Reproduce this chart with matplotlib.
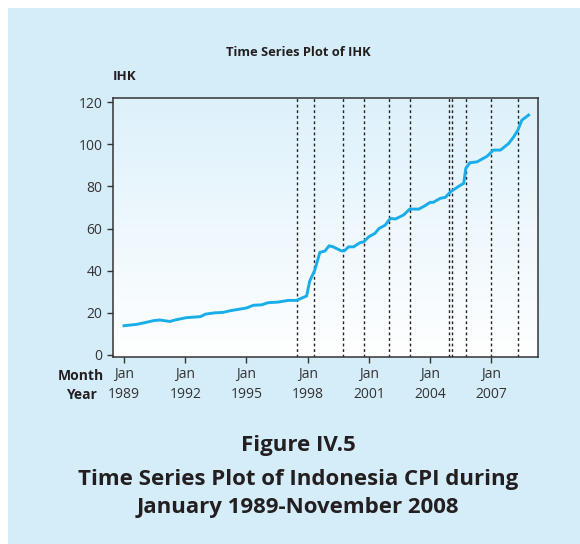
import numpy as np
import matplotlib
matplotlib.use("Agg")
import matplotlib.pyplot as plt
from matplotlib.colors import LinearSegmentedColormap
from matplotlib.patches import Rectangle

plt.rcParams['font.family'] = ['Open Sans', 'DejaVu Sans']

# monthly CPI (IHK), dates as decimal years
dates = [1989.0, 1989.6, 1990.0, 1990.45, 1990.75, 1991.25, 1991.5, 1992.05,
         1992.75, 1993.0, 1993.45, 1993.85, 1994.2, 1994.7, 1995.0, 1995.35,
         1995.75, 1996.05, 1996.55, 1997.05, 1997.45, 1997.95, 1998.1, 1998.35,
         1998.6, 1998.85, 1999.05, 1999.25, 1999.65, 1999.8, 2000.0, 2000.25,
         2000.55, 2000.75, 2001.0, 2001.3, 2001.5, 2001.8, 2002.05, 2002.3,
         2002.7, 2003.0, 2003.45, 2003.75, 2004.0, 2004.15, 2004.5, 2004.75,
         2005.0, 2005.25, 2005.45, 2005.65, 2005.75, 2005.95, 2006.3, 2006.8,
         2007.1, 2007.45, 2007.85, 2008.1, 2008.3, 2008.5, 2008.83]
ihk = [13.9, 14.5, 15.3, 16.3, 16.6, 15.9, 16.6, 17.7,
       18.2, 19.4, 20.0, 20.2, 21.0, 21.8, 22.3, 23.6,
       23.8, 24.8, 25.1, 25.9, 25.9, 28.0, 35.0, 40.3,
       48.7, 49.3, 51.8, 51.3, 49.4, 49.4, 51.3, 51.3,
       53.2, 53.7, 56.1, 57.7, 60.0, 61.6, 64.8, 64.5,
       66.4, 69.2, 69.2, 70.8, 72.4, 72.4, 74.3, 74.8,
       77.4, 79.0, 80.3, 81.4, 88.5, 91.2, 91.6, 94.3,
       97.2, 97.2, 100.3, 103.5, 106.6, 111.4, 113.8]

# reference lines (months of structural shocks)
events = [1997.5, 1998.33, 1999.75, 2000.75, 2002.0, 2003.0,
          2004.92, 2005.08, 2005.75, 2007.0, 2008.33]

tick_years = [1989, 1992, 1995, 1998, 2001, 2004, 2007]
tick_labels = [f'Jan\n{y}' for y in tick_years]
y_ticks = [0, 20, 40, 60, 80, 100, 120]

bg = '#d5ecf9'
txt = '#231f20'

fig = plt.figure(figsize=(5.8, 5.44), dpi=100)
fig.patches.append(Rectangle((8 / 580, 0), 1 - 8 / 580, 1 - 8 / 544,
                             transform=fig.transFigure, facecolor=bg,
                             edgecolor='none', zorder=-10))

ax = fig.add_axes([113 / 580, (544 - 357) / 544, 425 / 580, 259 / 544])
grad = LinearSegmentedColormap.from_list('g', ['#ffffff', '#ddf1fb'])
ax.imshow(np.linspace(0, 1, 256).reshape(-1, 1)[::-1], cmap=grad,
          extent=[0, 1, 0, 1], transform=ax.transAxes, aspect='auto', zorder=0)

for d in events:
    ax.axvline(d, color='#222222', lw=1.0, ls=(0, (2, 2)), zorder=1)

ax.plot(dates, ihk, color='#19aeea', lw=2.1, solid_joinstyle='round', zorder=2)

ax.set_xlim(1988.46, 2009.29)
ax.set_ylim(-0.95, 121.9)
ax.set_xticks(tick_years)
ax.set_xticklabels(tick_labels, linespacing=1.45)
ax.set_yticks(y_ticks)
ax.tick_params(axis='both', colors='#333333', labelsize=10, length=4.5,
               width=1, direction='out', labelcolor='#333333')
ax.tick_params(axis='y', pad=3)
ax.tick_params(axis='x', pad=3)
for s in ax.spines.values():
    s.set_color('#333333')
    s.set_linewidth(1.1)

fig.text(298 / 580, 1 - 52 / 544, 'Time Series Plot of IHK', ha='center',
         va='center', fontsize=9.3, fontweight='bold', color=txt)
fig.text(113 / 580, 1 - 76 / 544, 'IHK', ha='left', va='center',
         fontsize=9.5, fontweight='bold', color=txt)
fig.text(81 / 580, 1 - 376 / 544, 'Month', ha='center', va='center',
         fontsize=10, fontweight='bold', color=txt)
fig.text(81 / 580, 1 - 395 / 544, 'Year', ha='center', va='center',
         fontsize=10, fontweight='bold', color=txt)

fig.text(298 / 580, 1 - 445 / 544, 'Figure IV.5', ha='center', va='center',
         fontsize=16, fontweight='bold', color=txt)
fig.text(298 / 580, 1 - 479 / 544, 'Time Series Plot of Indonesia CPI during',
         ha='center', va='center', fontsize=16, fontweight='bold', color=txt)
fig.text(298 / 580, 1 - 507 / 544, 'January 1989-November 2008',
         ha='center', va='center', fontsize=16, fontweight='bold', color=txt)

fig.savefig('out.png', dpi=100, facecolor='white')
